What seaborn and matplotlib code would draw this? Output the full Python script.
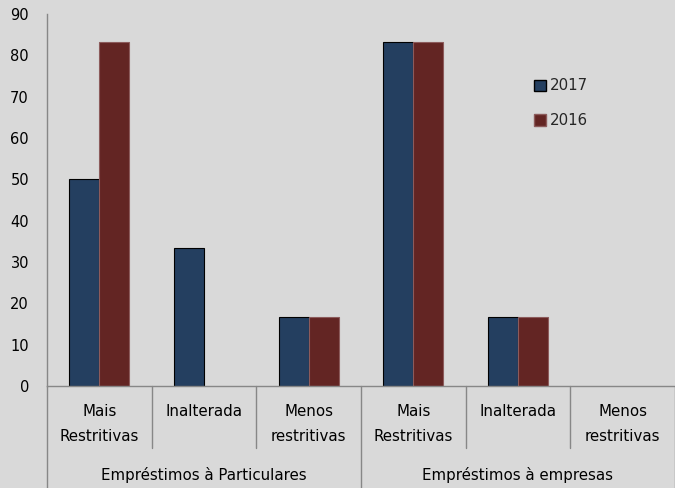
import matplotlib
matplotlib.use("Agg")
import matplotlib.pyplot as plt
import seaborn as sns
import pandas as pd
import numpy as np

# Survey results: share of banks reporting each change in credit standards
groups = ["Empréstimos à Particulares", "Empréstimos à empresas"]
categories = ["Mais\nRestritivas", "Inalterada", "Menos\nrestritivas"]
years = ["2017", "2016"]
values_2017 = [50.0, 33.3, 16.7, 83.3, 16.7, 0.0]
values_2016 = [83.3, 0.0, 16.7, 83.3, 16.7, 0.0]
y_ticks = [0, 10, 20, 30, 40, 50, 60, 70, 80, 90]

colors = {"2017": "#243f60", "2016": "#632523"}
edge_colors = {"2017": "#000000", "2016": "#8c5b5b"}
bg = "#d9d9d9"
axis_grey = "#878787"

slots = list(range(len(groups) * len(categories)))
rows = []
for i in slots:
    rows.append({"slot": i, "ano": "2017", "valor": values_2017[i]})
    rows.append({"slot": i, "ano": "2016", "valor": values_2016[i]})
df = pd.DataFrame(rows)

sns.set_theme(style="white")
plt.rcParams["font.family"] = ["DejaVu Sans"]

fig = plt.figure(figsize=(6.75, 4.88), dpi=100, facecolor=bg)
ax = fig.add_axes([47 / 675, 1 - 386 / 488, 1 - 47 / 675, 372 / 488])
ax.set_facecolor(bg)

sns.barplot(data=df, x="slot", y="valor", hue="ano", order=slots,
            hue_order=years, palette=colors, width=0.575, dodge=True,
            saturation=1, ax=ax, legend=True)

for year, cont in zip(years, ax.containers):
    for patch in cont.patches:
        if patch.get_height() > 0:
            patch.set_edgecolor(edge_colors[year])
            patch.set_linewidth(0.8)
        else:
            patch.set_linewidth(0)

ax.set_xlim(-0.5, len(slots) - 0.5)
ax.set_ylim(0, 90)
ax.set_yticks(y_ticks)
ax.set_yticklabels([str(t) for t in y_ticks], fontsize=10.5, color="#000000")
ax.tick_params(axis="y", length=0, pad=13)
ax.set_xticks([])
ax.set_xlabel("")
ax.set_ylabel("")

for side in ["top", "right"]:
    ax.spines[side].set_visible(False)
for side in ["left", "bottom"]:
    ax.spines[side].set_color(axis_grey)
    ax.spines[side].set_linewidth(1.0)

# Two-level category axis drawn below the plot area
trans = ax.get_xaxis_transform()
px = 1 / 372.0
label_size = 10.8
for i, slot in enumerate(slots):
    lines = categories[i % len(categories)].split("\n")
    for k, line in enumerate(lines):
        ax.text(slot, -(26 + 24 * k) * px, line, transform=trans,
                ha="center", va="center", fontsize=label_size,
                color="#000000")
for g, name in enumerate(groups):
    center = g * len(categories) + (len(categories) - 1) / 2
    ax.text(center, -89 * px, name, transform=trans, ha="center",
            va="center", fontsize=label_size, color="#000000")

for b in np.arange(-0.5, len(slots), 1.0):
    major = (round(b + 0.5) % len(categories)) == 0
    bottom = -110 * px if major else -62 * px
    ax.plot([b, b], [0, bottom], transform=trans, color=axis_grey,
            lw=1.0, clip_on=False)

handles, labels = ax.get_legend_handles_labels()
for h, y in zip(handles, years):
    h.set_edgecolor(edge_colors[y])
ax.legend(handles, labels, loc="upper left", frameon=False,
          bbox_to_anchor=(526 / 675, 1 - 71 / 488),
          bbox_transform=fig.transFigure, borderpad=0, handlelength=0.8,
          handleheight=0.8, handletextpad=0.3, labelspacing=1.3,
          fontsize=10.8)

fig.savefig("out.png", dpi=100, facecolor=bg)
